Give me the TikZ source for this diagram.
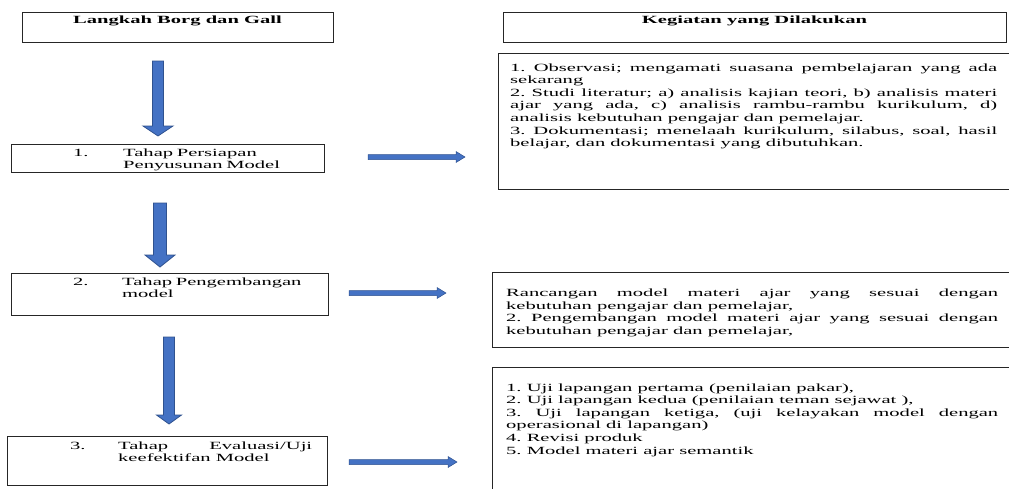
\documentclass[tikz,border=0pt]{standalone}
\usepackage{fontspec}
\setmainfont{Liberation Serif}[FakeStretch=1.87]
\usetikzlibrary{calc}
\definecolor{arrowblue}{HTML}{4472C4}
\definecolor{arrowedge}{HTML}{2F528F}
\newcommand{\vblock}[5]{\path[blk] ($(#1)+(-#3,0)$) -- ($(#2)+(-#3,-#5)$) -- ($(#2)+(-#4,-#5)$) -- (#2) -- ($(#2)+(#4,-#5)$) -- ($(#2)+(#3,-#5)$) -- ($(#1)+(#3,0)$) -- cycle;}
\newcommand{\hblock}[5]{\path[blk, line width=0.5pt] ($(#1)+(0,-#3)$) -- ($(#2)+(-#5,-#3)$) -- ($(#2)+(-#5,-#4)$) -- (#2) -- ($(#2)+(-#5,#4)$) -- ($(#2)+(-#5,#3)$) -- ($(#1)+(0,#3)$) -- cycle;}
\begin{document}
\begin{tikzpicture}[x=1pt,y=-1pt,
  box/.style={draw=black!85, line width=1.2pt, inner sep=0pt, anchor=north west},
  lbl/.style={inner sep=0pt, anchor=base, font=\fontsize{11}{12.5}\selectfont\bfseries},
  num/.style={inner sep=0pt, anchor=base west, font=\fontsize{11}{12.5}\selectfont},
  txt/.style={inner sep=0pt, anchor=base west, font=\fontsize{11}{12.6}\selectfont\frenchspacing, align=justify},
  blk/.style={fill=arrowblue, draw=arrowedge, line width=0.8pt, line join=miter}]
\useasboundingbox (0,0) rectangle (1009,488);
\clip (0,0) rectangle (1009,488);
% boxes
\node[box, minimum width=311pt, minimum height=30pt] (hL) at (22,12) {};
\node[box, minimum width=503pt, minimum height=30pt] (hR) at (503,12) {};
\node[box, minimum width=313pt, minimum height=28pt] (b1) at (11,144) {};
\node[box, minimum width=317pt, minimum height=42pt] (b2) at (11,273) {};
\node[box, minimum width=320pt, minimum height=49pt] (b3) at (7,436) {};
\node[box, minimum width=530pt, minimum height=136pt] (bA) at (498,53) {};
\node[box, minimum width=530pt, minimum height=75pt] (bB) at (492,272) {};
\node[box, minimum width=530pt, minimum height=140pt] (bC) at (492,367) {};
% headers
\node[lbl] (hLt) at (177.5,23.5) {Langkah Borg dan Gall};
\node[lbl] (hRt) at (754.5,23.5) {Kegiatan yang Dilakukan};
% left texts
\node[num] (n1) at (73,156) {1.};
\node[txt, text width=190pt, align=left] (t1) at (123,156) {Tahap Persiapan\\Penyusunan Model};
\node[num] (n2) at (73,285) {2.};
\node[txt, text width=190pt, align=left] (t2) at (122,285) {Tahap Pengembangan\\model};
\node[num] (n3) at (70,449) {3.};
\node[txt, text width=194pt] (t3) at (118,449) {Tahap Evaluasi/Uji\linebreak keefektifan Model};
% right texts
\node[txt, text width=487pt] (tA) at (510,71) {1. Observasi; mengamati suasana pembelajaran yang ada\linebreak sekarang\\ 2. Studi literatur; a) analisis kajian teori, b) analisis materi\linebreak ajar yang ada, c) analisis rambu-rambu kurikulum, d)\linebreak analisis kebutuhan pengajar dan pemelajar.\\ 3. Dokumentasi; menelaah kurikulum, silabus, soal, hasil\linebreak belajar, dan dokumentasi yang dibutuhkan.};
\node[txt, text width=492pt] (tB) at (506,296.5) {Rancangan model materi ajar yang sesuai dengan\linebreak kebutuhan pengajar dan pemelajar,\\ 2. Pengembangan model materi ajar yang sesuai dengan\linebreak kebutuhan pengajar dan pemelajar,};
\node[txt, text width=492pt] (tC) at (506,391) {1. Uji lapangan pertama (penilaian pakar),\\ 2. Uji lapangan kedua (penilaian teman sejawat ),\\ 3. Uji lapangan ketiga, (uji kelayakan model dengan\linebreak operasional di lapangan)\\ 4. Revisi produk\\ 5. Model materi ajar semantik};
% arrow end points
\coordinate (d1s) at (158,61);  \coordinate (d1e) at (158,136);
\coordinate (d2s) at (160,203); \coordinate (d2e) at (160,267);
\coordinate (d3s) at (169,337); \coordinate (d3e) at (169,424);
\coordinate (r1s) at (368,157); \coordinate (r1e) at (465,157);
\coordinate (r2s) at (349,293); \coordinate (r2e) at (446,293);
\coordinate (r3s) at (349,462); \coordinate (r3e) at (457,462);
% block arrows
\vblock{d1s}{d1e}{5.5}{15}{10}
\vblock{d2s}{d2e}{6.5}{15}{12}
\vblock{d3s}{d3e}{5.5}{12.5}{9}
\hblock{r1s}{r1e}{2.5}{5.5}{9}
\hblock{r2s}{r2e}{2.5}{5.5}{9}
\hblock{r3s}{r3e}{2.5}{5.5}{9}
\end{tikzpicture}
\end{document}
